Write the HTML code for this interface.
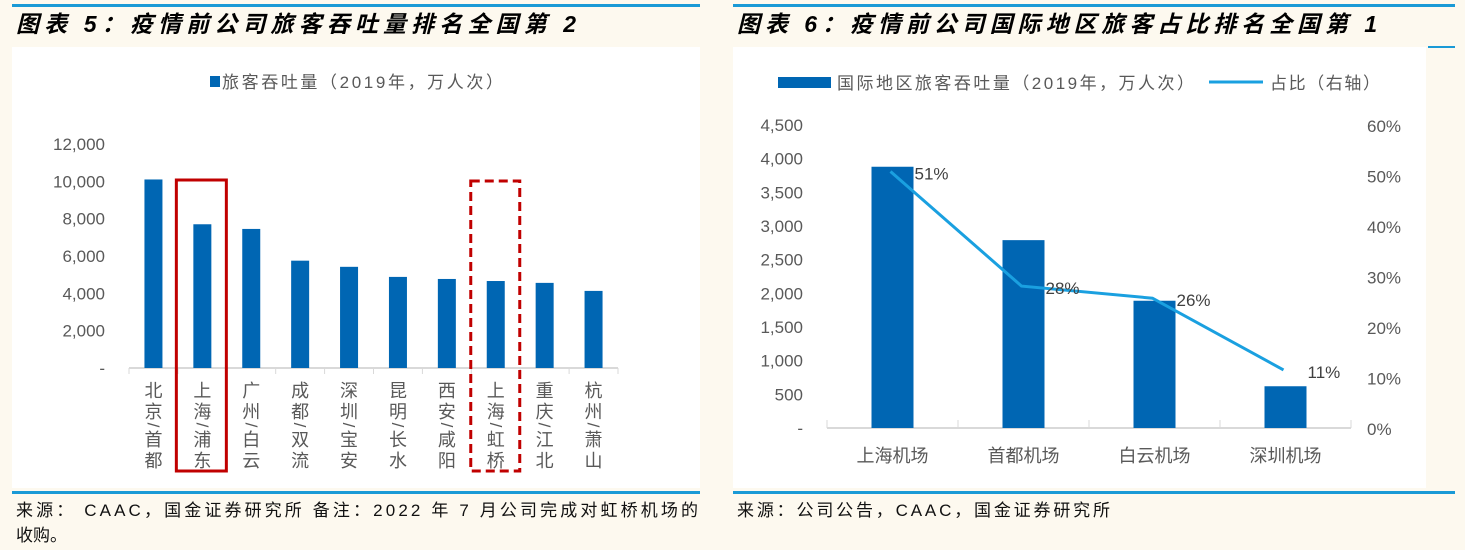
<!DOCTYPE html>
<html><head><meta charset="utf-8"><style>
body{margin:0;width:1465px;height:550px;background:#fdf9ef;overflow:hidden;font-family:"Liberation Sans","Noto Sans CJK SC",sans-serif;}
svg{position:absolute;left:0;top:0}
</style></head><body>
<svg width="1465" height="550">
<rect x="12" y="4" width="688" height="3" fill="#1a9ad6"/>
<rect x="733" y="4" width="722" height="3" fill="#1a9ad6"/>
<rect x="1428" y="46" width="27" height="2" fill="#1a9ad6"/>
<text x="16" y="32" font-size="23" font-weight="bold" font-style="italic" fill="#000" textLength="560">图表 5：疫情前公司旅客吞吐量排名全国第 2</text>
<text x="737" y="32" font-size="23" font-weight="bold" font-style="italic" fill="#000" textLength="640">图表 6：疫情前公司国际地区旅客占比排名全国第 1</text>
<rect x="12" y="47" width="688" height="441" fill="#fff"/>
<rect x="733" y="47" width="693" height="441" fill="#fff"/>
<rect x="12" y="491" width="688" height="3" fill="#1a9ad6"/>
<rect x="733" y="491" width="722" height="3" fill="#1a9ad6"/>
<text x="16" y="516" font-size="17" fill="#111" textLength="682">来源：  CAAC，国金证券研究所   备注：2022 年 7 月公司完成对虹桥机场的</text>
<text x="16" y="541" font-size="17" fill="#111">收购。</text>
<text x="737" y="516" font-size="17" fill="#111" textLength="373">来源：公司公告，CAAC，国金证券研究所</text>
<g id="c1"></g><g id="c2"></g>
</svg>
<script>
const cats1=[["北","京","/","首","都"],["上","海","/","浦","东"],["广","州","/","白","云"],["成","都","/","双","流"],["深","圳","/","宝","安"],["昆","明","/","长","水"],["西","安","/","咸","阳"],["上","海","/","虹","桥"],["重","庆","/","江","北"],["杭","州","/","萧","山"]];
const vals1=[10100,7700,7450,5750,5420,4880,4770,4660,4560,4130];
const ticks1=["-","2,000","4,000","6,000","8,000","10,000","12,000"];
const cats2=["上海机场","首都机场","白云机场","深圳机场"];
const vals2=[3880,2790,1890,620];
const share2=[50.8,28.1,25.7,11.5];
const shareLabels=["51%","28%","26%","11%"];
const ticksL2=["-","500","1,000","1,500","2,000","2,500","3,000","3,500","4,000","4,500"];
const ticksR2=["0%","10%","20%","30%","40%","50%","60%"];
const NS="http://www.w3.org/2000/svg";
function mk(p,t,a,txt){const e=document.createElementNS(NS,t);for(const k in a)e.setAttribute(k,a[k]);if(txt!=null)e.textContent=txt;p.appendChild(e);return e;}
// chart 1
const g1=document.getElementById('c1');
const y1=v=>368-v/12000*224;
const x0=129,x1=618,step1=(x1-x0)/cats1.length;
const xc1=i=>x0+step1*(i+0.5);
let e=mk(g1,'text',{x:222,y:88,'font-size':17,fill:'#595959',textLength:281},'旅客吞吐量（2019年，万人次）');


e=mk(g1,'rect',{x:210,y:76,width:10,height:11,fill:'#0066b3'});


ticks1.forEach((t,i)=>{const el=mk(g1,'text',{x:105,y:y1(i*2000)+6,'font-size':17,fill:'#595959','text-anchor':'end'},t);

});
e=mk(g1,'line',{x1:x0,x2:x1,y1:368,y2:368,stroke:'#d9d9d9','stroke-width':2});


for(let i=0;i<=cats1.length;i++){const el=mk(g1,'line',{x1:x0+step1*i,x2:x0+step1*i,y1:368,y2:374,stroke:'#d9d9d9','stroke-width':1});

}
const charY=[397,418,431,446,467];
vals1.forEach((v,i)=>{const el=mk(g1,'rect',{x:xc1(i)-9,y:y1(v),width:18,height:368-y1(v),fill:'#0066b3'});


cats1[i].forEach((c,j)=>{let t;
if(c==='/'){t=mk(g1,'text',{x:0,y:0,'font-size':17,fill:'#595959','text-anchor':'middle',transform:'translate('+xc1(i)+','+(charY[j]-6)+') rotate(90)',dy:'6'},c);}
else t=mk(g1,'text',{x:xc1(i),y:charY[j],'font-size':18,fill:'#595959','text-anchor':'middle'},c);

});});
e=mk(g1,'rect',{x:xc1(1)-26,y:180,width:50,height:291,fill:'none',stroke:'#c00000','stroke-width':3});


e=mk(g1,'rect',{x:xc1(7)-25,y:181,width:49,height:290,fill:'none',stroke:'#c00000','stroke-width':3,'stroke-dasharray':'9,5'});


// chart 2
const g2=document.getElementById('c2');
const yL=v=>428-v/4500*303, yR=p=>428-p/60*303;
const a0=827,a1=1351,step2=(a1-a0)/cats2.length;
const xc2=i=>a0+step2*(i+0.5);
e=mk(g2,'rect',{x:778,y:77,width:53,height:11,fill:'#0066b3'});


e=mk(g2,'text',{x:837,y:89,'font-size':17,fill:'#595959',textLength:357},'国际地区旅客吞吐量（2019年，万人次）');


e=mk(g2,'line',{x1:1209,x2:1263,y1:82,y2:82,stroke:'#1aa0e0','stroke-width':3});


e=mk(g2,'text',{x:1270,y:89,'font-size':17,fill:'#595959',textLength:110},'占比（右轴）');


ticksL2.forEach((t,i)=>{const el=mk(g2,'text',{x:803,y:yL(i*500)+6,'font-size':17,fill:'#595959','text-anchor':'end'},t);

});
ticksR2.forEach((t,i)=>{const el=mk(g2,'text',{x:1367,y:yR(i*10)+7,'font-size':17,fill:'#595959'},t);

});
e=mk(g2,'line',{x1:a0,x2:a1,y1:428,y2:428,stroke:'#d9d9d9','stroke-width':2});


for(let i=0;i<=cats2.length;i++){const el=mk(g2,'line',{x1:a0+step2*i,x2:a0+step2*i,y1:420,y2:428,stroke:'#d9d9d9','stroke-width':1});

}
vals2.forEach((v,i)=>{const el=mk(g2,'rect',{x:xc2(i)-21,y:yL(v),width:42,height:428-yL(v),fill:'#0066b3'});


const t=mk(g2,'text',{x:xc2(i),y:462,'font-size':18,fill:'#595959','text-anchor':'middle'},cats2[i]);

});
e=mk(g2,'polyline',{points:share2.map((p,i)=>(xc2(i)-2)+','+yR(p)).join(' '),fill:'none',stroke:'#1aa0e0','stroke-width':3});


share2.forEach((p,i)=>{const t=mk(g2,'text',{x:xc2(i)+22,y:yR(p)+8,'font-size':17,fill:'#404040'},shareLabels[i]);

});
</script>
</body></html>
